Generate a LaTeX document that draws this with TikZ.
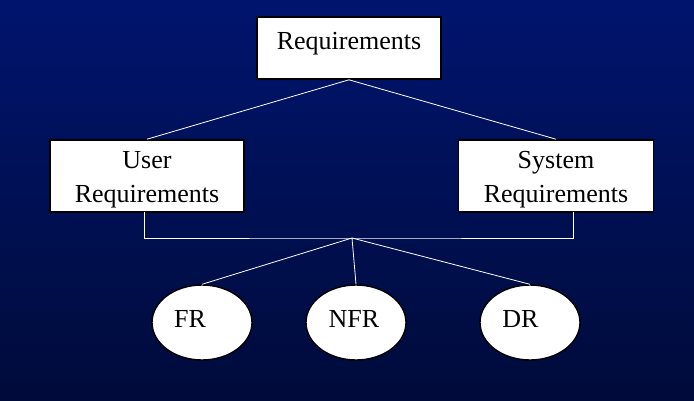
\documentclass[tikz,border=0pt]{standalone}
\usepackage{fontspec}
\setmainfont{Liberation Serif}
\usetikzlibrary{shapes.geometric}
\definecolor{slidetop}{RGB}{0,20,110}
\definecolor{slidebottom}{RGB}{0,11,58}
\begin{document}
\begin{tikzpicture}[x=1pt,y=-1pt,
    box/.style={draw=black,line width=1.6pt,fill=white,inner sep=0pt,anchor=base,
      font=\fontsize{26}{34}\selectfont},
    leaf/.style={ellipse,draw=black,line width=1.4pt,fill=white,inner sep=0pt,
      minimum width=100pt,minimum height=75pt},
    leaflabel/.style={anchor=base,inner sep=0pt,font=\fontsize{26}{34}\selectfont},
    link/.style={draw=white,line width=0.8pt}]
      \useasboundingbox (0,0) rectangle (694,400);
      \fill[top color=slidetop,bottom color=slidebottom] (0,0) rectangle (694,400);
      \node[box,text height=32pt,text depth=30pt,minimum width=184pt] (req) at (349,49) {Requirements};
      \node[box,text height=28pt,text depth=44pt,minimum width=194pt] (user) at (147,168)
        {\begin{tabular}[t]{@{}c@{}}User\\Requirements\end{tabular}};
      \node[box,text height=28pt,text depth=44pt,minimum width=195pt] (sys) at (556,168)
        {\begin{tabular}[t]{@{}c@{}}System\\Requirements\end{tabular}};
      \node[leaf] (fr) at (202,322.5) {};
      \node[leaf] (nfr) at (356,322.5) {};
      \node[leaf] (dr) at (530,322.5) {};
      \node[leaflabel] (frtext) at (190,327) {FR};
      \node[leaflabel] (nfrtext) at (354,327) {NFR};
      \node[leaflabel] (drtext) at (520.5,327) {DR};
      \coordinate (join) at (352,238);
      \coordinate (userfoot) at (144,212);
      \coordinate (sysfoot) at (573,212);
      \begin{scope}[link]
        \draw (req.south) to (user.north);
        \draw (req.south) to (sys.north);
        \draw (userfoot) |- (join) -| (sysfoot);
        \draw (join) to (fr.north);
        \draw (join) to (nfr.north);
        \draw (join) to (dr.north);
      \end{scope}
    \end{tikzpicture}
\end{document}
